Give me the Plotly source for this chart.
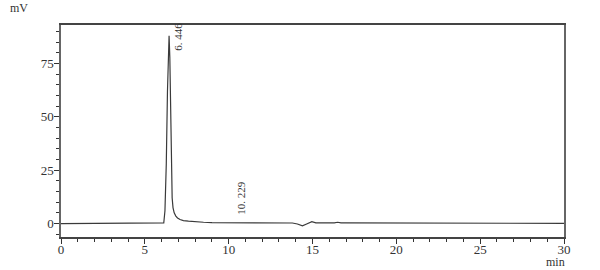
import plotly.graph_objects as go

time_min = [0, 1, 2, 3, 4, 5, 5.8, 6.0, 6.13, 6.2, 6.28, 6.35, 6.41, 6.446, 6.49, 6.54, 6.59, 6.63, 6.68, 6.75, 6.85, 6.95,
            7.1, 7.3, 7.6, 8.0, 8.5, 9.0, 10.0, 10.229, 11.0, 12.0, 13.0, 13.8, 14.1, 14.4, 14.65, 14.96, 15.2, 15.5,
            16.0, 16.3, 16.5, 16.7, 17.0, 17.5, 18.0, 20.0, 22.0, 25.0, 28.0, 30.0]
signal_mv = [0, 0, 0, 0, 0, 0, 0, 0.05, 0.3, 6, 28, 62, 84, 88, 78, 52, 26, 12, 7.5, 5, 3.5, 2.6,
             1.9, 1.4, 1.1, 0.8, 0.6, 0.45, 0.35, 0.35, 0.3, 0.3, 0.3, 0.25, -0.2, -1.1, -0.2, 0.9, 0.3, 0.25,
             0.3, 0.35, 0.6, 0.3, 0.3, 0.3, 0.25, 0.2, 0.15, 0.1, 0.1, 0.1]

peak_times = [6.446, 10.229]
peak_labels = ["6. 446", "10. 229"]
label_heights = [80, 3]

x_ticks = [0, 5, 10, 15, 20, 25, 30]
y_ticks = [0, 25, 50, 75]

FONT = "Liberation Serif"

fig = go.Figure()
fig.add_trace(go.Scatter(x=time_min, y=signal_mv, mode="lines",
                         line=dict(color="#3a3a3a", width=1.2), hoverinfo="skip", showlegend=False))

for t, lab, h in zip(peak_times, peak_labels, label_heights):
    fig.add_annotation(x=t, y=h, text=lab, textangle=-90, showarrow=False,
                       xanchor="left", yanchor="bottom", xshift=1,
                       font=dict(family=FONT, size=11, color="#333"))

fig.add_annotation(xref="paper", yref="paper", x=-0.105, y=1.08, text="mV", showarrow=False,
                   xanchor="left", yanchor="middle", font=dict(family=FONT, size=12, color="#333"))
fig.add_annotation(xref="paper", yref="paper", x=1.006, y=-0.12, text="min", showarrow=False,
                   xanchor="right", yanchor="middle", font=dict(family=FONT, size=12, color="#333"))

fig.update_layout(
    width=600, height=270,
    margin=dict(l=61, r=36, t=25, b=33, autoexpand=False),
    paper_bgcolor="white", plot_bgcolor="white",
    showlegend=False,
    xaxis=dict(range=[0, 30], tickvals=x_ticks, ticks="outside", ticklen=5, tickcolor="#333",
               showline=True, linecolor="#444", linewidth=1.5, mirror=True, automargin=False,
               showgrid=False, zeroline=False, ticklabelstandoff=-5,
               minor=dict(dtick=1, ticks="outside", ticklen=3, tickcolor="#333", showgrid=False),
               tickfont=dict(family=FONT, size=13, color="#333")),
    yaxis=dict(range=[-6.3, 93], tickvals=y_ticks, ticks="outside", ticklen=5, tickcolor="#333",
               showline=True, linecolor="#666", linewidth=1.5, mirror=True, automargin=False,
               showgrid=False, zeroline=False, ticklabelstandoff=-2,
               minor=dict(dtick=5, tick0=0, ticks="outside", ticklen=3, tickcolor="#333", showgrid=False),
               tickfont=dict(family=FONT, size=13, color="#333")),
)

fig.write_html("out.html")
